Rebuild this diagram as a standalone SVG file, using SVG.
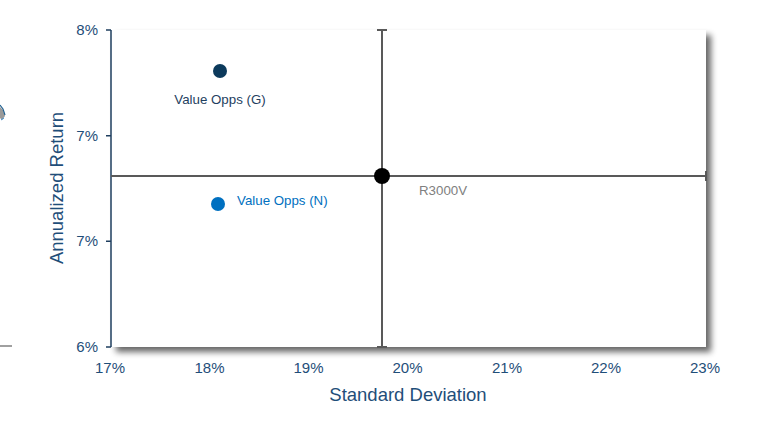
<svg xmlns="http://www.w3.org/2000/svg" width="765" height="438" viewBox="0 0 765 438">
<style>
.ax{font-family:"Liberation Sans",Arial,sans-serif;font-size:15px;fill:#1f4e79}
.title{font-family:"Liberation Sans",Arial,sans-serif;font-size:18.5px;fill:#1f4e79}
.lbl{font-family:"Liberation Sans",Arial,sans-serif;font-size:13.3px}
.axis{stroke:#1f3f5f;stroke-width:1.5;fill:none}
.cross{stroke:#595959;stroke-width:2;fill:none}
</style>
<defs>
<filter id="sh" x="-5%" y="-5%" width="115%" height="115%">
<feGaussianBlur in="SourceAlpha" stdDeviation="3"/>
<feOffset dx="5" dy="5" result="b"/>
<feComponentTransfer><feFuncA type="linear" slope="0.6"/></feComponentTransfer>
<feMerge><feMergeNode/><feMergeNode in="SourceGraphic"/></feMerge>
</filter>
</defs>
<rect width="765" height="438" fill="#ffffff"/>
<!-- left edge artifacts -->
<path d="M0,107 L3,110 L5,116 L2,120 L0,118 Z" fill="#9a9a9a"/>
<path d="M0,105 L3,109 L5,115" stroke="#1f5f8f" stroke-width="1.2" fill="none"/>
<path d="M1,120 L4,118" stroke="#3f8fcf" stroke-width="1" fill="none"/>
<line x1="0" y1="346" x2="12" y2="346" stroke="#808080" stroke-width="1.5"/>
<!-- plot area -->
<g id="plot-area">
<rect x="111" y="30" width="595" height="317" fill="#ffffff" filter="url(#sh)"/>
</g>
<g id="axes">
<path class="axis" d="M111,30 V347 M106,30 H111 M106,135.7 H111 M106,241.3 H111 M106,347 H111"/>
<text class="ax" x="98" y="35" text-anchor="end">8%</text>
<text class="ax" x="98" y="141" text-anchor="end">7%</text>
<text class="ax" x="98" y="246" text-anchor="end">7%</text>
<text class="ax" x="98" y="352" text-anchor="end">6%</text>
<text class="ax" x="110" y="373" text-anchor="middle">17%</text>
<text class="ax" x="209.5" y="373" text-anchor="middle">18%</text>
<text class="ax" x="308.5" y="373" text-anchor="middle">19%</text>
<text class="ax" x="407.5" y="373" text-anchor="middle">20%</text>
<text class="ax" x="507" y="373" text-anchor="middle">21%</text>
<text class="ax" x="606" y="373" text-anchor="middle">22%</text>
<text class="ax" x="705" y="373" text-anchor="middle">23%</text>
<text class="title" x="408" y="401" text-anchor="middle">Standard Deviation</text>
<text class="title" transform="translate(63,188) rotate(-90)" text-anchor="middle">Annualized Return</text>
</g>
<g id="connectors">
<path class="cross" d="M382,30 V347 M377,30 H387 M377,347 H387"/>
<path class="cross" d="M111,176 H706 M706,171 V181"/>
</g>
<g id="node-r3000v">
<circle cx="382" cy="176" r="8" fill="#000000"/>
<text class="lbl" x="419" y="195" fill="#808080">R3000V</text>
</g>
<g id="node-value-opps-g">
<circle cx="220" cy="71" r="7" fill="#0c3a5c"/>
<text class="lbl" x="220" y="104" text-anchor="middle" fill="#1f3f5f">Value Opps (G)</text>
</g>
<g id="node-value-opps-n">
<circle cx="218" cy="204" r="7" fill="#0070c0"/>
<text class="lbl" x="237" y="205" fill="#0070c0">Value Opps (N)</text>
</g>
</svg>
